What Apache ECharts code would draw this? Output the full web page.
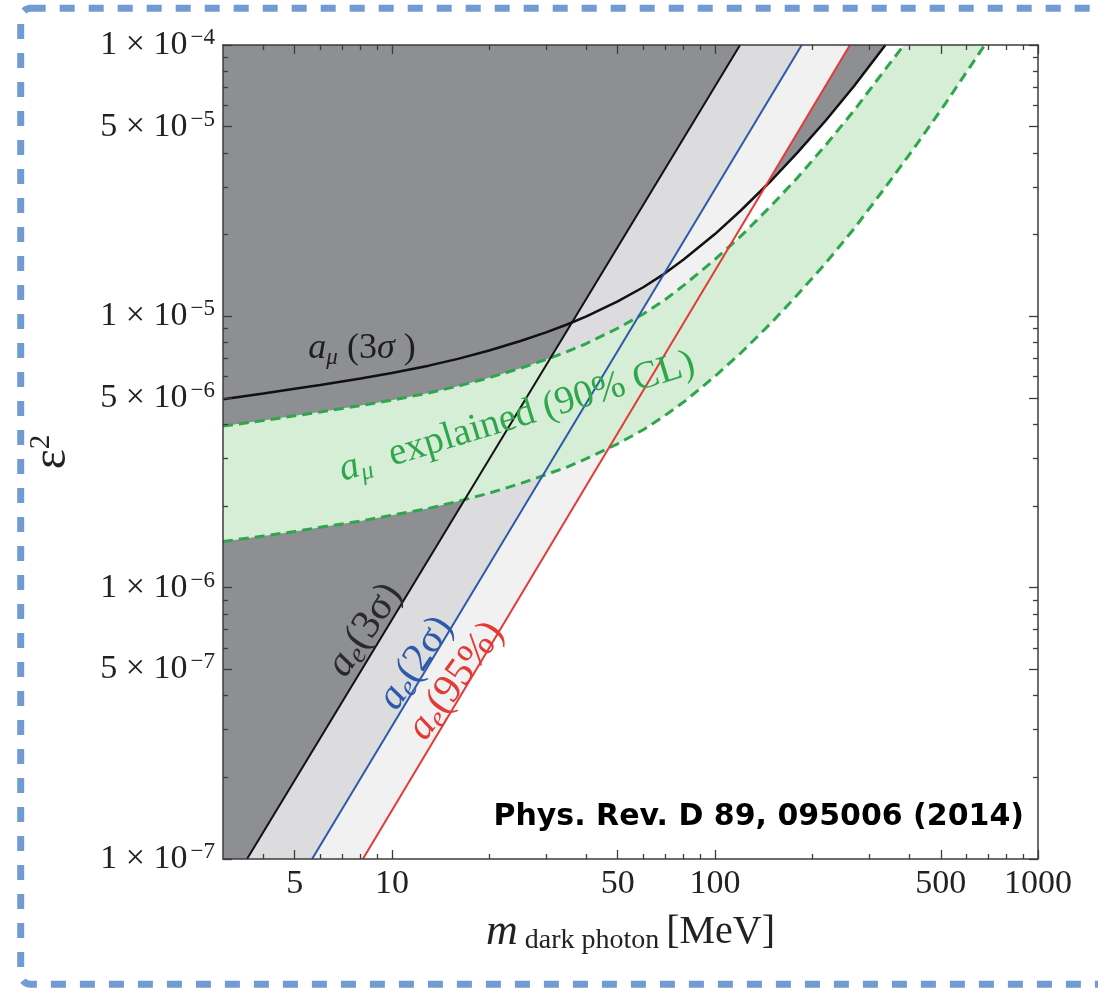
<!DOCTYPE html>
<html>
<head>
<meta charset="utf-8">
<script src="https://cdn.jsdelivr.net/npm/echarts@6/dist/echarts.min.js"></script>
<style>
  html, body { margin: 0; padding: 0; background: #fff; }
  #chart { width: 1098px; height: 988px; }
</style>
</head>
<body>
<div id="chart"></div>
<script>
// Axis ranges (MeV on x, epsilon^2 on y)
const X_MIN = 3, X_MAX = 1000;
const Y_MIN = 1e-7, Y_MAX = 1e-4;

// Tick positions
const xMajorTicks = [5, 10, 50, 100, 500, 1000];
const xMinorTicks = [4, 6, 7, 8, 9, 20, 30, 40, 60, 70, 80, 90, 200, 300, 400, 600, 700, 800, 900];
const yMajorTicks = [1e-7, 5e-7, 1e-6, 5e-6, 1e-5, 5e-5, 1e-4];
const yMinorTicks = [2e-7, 3e-7, 4e-7, 6e-7, 7e-7, 8e-7, 9e-7,
                     2e-6, 3e-6, 4e-6, 6e-6, 7e-6, 8e-6, 9e-6,
                     2e-5, 3e-5, 4e-5, 6e-5, 7e-5, 8e-5, 9e-5];

// Electron g-2 bounds (straight in log-log)
const aeMass3s = [3.56, 119.6];
const aeEps3s  = [1e-7, 1e-4];
const aeMass2s = [5.66, 185.6];
const aeEps2s  = [1e-7, 1e-4];
const aeMass95 = [8.13, 261.8];
const aeEps95  = [1e-7, 1e-4];

// Muon g-2 3 sigma exclusion curve
const amuMass = [3, 4, 5, 6, 8, 10, 13, 16, 20, 25, 30, 35, 40, 50, 60, 70, 80, 100, 120, 150, 180, 220, 270, 337];
const amuEps  = [4.95e-6, 5.20e-6, 5.41e-6, 5.58e-6, 5.90e-6, 6.18e-6, 6.58e-6, 6.97e-6, 7.48e-6, 8.11e-6,
                 8.73e-6, 9.35e-6, 1.0e-5, 1.135e-5, 1.28e-5, 1.44e-5, 1.62e-5, 2.01e-5, 2.45e-5, 3.18e-5,
                 4.01e-5, 5.26e-5, 7.08e-5, 1.0e-4];

// Muon g-2 explained band (90% CL): upper and lower edges
const greenUpMass = [3, 4, 5, 6, 8, 10, 13, 16, 20, 25, 30, 35, 40, 50, 60, 70, 80, 100, 120, 150, 180, 220, 270, 337, 385];
const greenUpEps  = [3.94e-6, 4.13e-6, 4.30e-6, 4.44e-6, 4.69e-6, 4.91e-6, 5.22e-6, 5.53e-6, 5.94e-6, 6.44e-6,
                     6.93e-6, 7.43e-6, 7.94e-6, 9.04e-6, 1.02e-5, 1.15e-5, 1.30e-5, 1.62e-5, 1.97e-5, 2.57e-5,
                     3.24e-5, 4.27e-5, 5.75e-5, 8.15e-5, 1.0e-4];
const greenLoMass = [3, 4, 5, 6, 8, 10, 13, 16, 20, 25, 30, 35, 40, 50, 60, 70, 80, 100, 120, 150, 180, 220, 270, 337, 420, 520, 684];
const greenLoEps  = [1.48e-6, 1.55e-6, 1.61e-6, 1.67e-6, 1.76e-6, 1.85e-6, 1.96e-6, 2.08e-6, 2.23e-6, 2.42e-6,
                     2.61e-6, 2.79e-6, 2.99e-6, 3.39e-6, 3.82e-6, 4.31e-6, 4.83e-6, 6.01e-6, 7.31e-6, 9.51e-6,
                     1.20e-5, 1.57e-5, 2.11e-5, 2.99e-5, 4.28e-5, 6.15e-5, 1.0e-4];

const SERIF = '"Liberation Serif", "DejaVu Serif", serif';
const C_DARK = '#8e8f93', C_MID = '#dcdcdf', C_LIGHT = '#f1f1f2';
const C_GREEN_FILL = '#d6edd6', C_GREEN = '#2ea64c';
const C_BLUE = '#2c5aa8', C_RED = '#e23a35', C_AXIS = '#3c3c3c';

const zip = (xs, ys) => xs.map((x, i) => [x, ys[i]]);
// region to the upper-left of a line that starts on the bottom edge
const leftOf = (xs, ys) => [[X_MIN, Y_MIN]].concat(zip(xs, ys));

function logAxis(kind, position, ticks, tickLen, withLine, withLabels, extra) {
  const isX = kind === 'x';
  return Object.assign({
    type: 'log', logBase: 10,
    min: isX ? X_MIN : Y_MIN, max: isX ? X_MAX : Y_MAX,
    position: position, z: 50,
    axisLine: { show: withLine, onZero: false, lineStyle: { color: C_AXIS, width: 1.5 } },
    axisTick: { show: true, inside: true, length: tickLen, customValues: ticks,
                lineStyle: { color: C_AXIS, width: 1.3 } },
    axisLabel: { show: withLabels, customValues: ticks },
    splitLine: { show: false },
    minorTick: { show: false },
    axisPointer: { show: false }
  }, extra || {});
}

const xLabel = {
  show: true, customValues: xMajorTicks, margin: 8,
  fontFamily: SERIF, fontSize: 34, color: '#222',
  formatter: v => String(Math.round(v))
};

const yLabel = {
  show: true, customValues: yMajorTicks, margin: 8,
  formatter: v => {
    const e = Math.floor(Math.log10(v) + 1e-9);
    const m = Math.round(v / Math.pow(10, e));
    return '{m|' + m + ' × 10}{e|−' + (-e) + '}';
  },
  rich: {
    m: { fontFamily: SERIF, fontSize: 34, lineHeight: 37, color: '#222', verticalAlign: 'middle' },
    e: { fontFamily: SERIF, fontSize: 23, lineHeight: 22, color: '#222', verticalAlign: 'top',
         padding: [0, 0, 0, 3] }
  }
};

const xAxes = [
  logAxis('x', 'bottom', xMajorTicks, 9, true, true, {
    axisLabel: xLabel,
    name: '{m|m}{s| dark photon }{u|[MeV]}',
    nameLocation: 'middle', nameGap: 50,
    nameTextStyle: {
      rich: {
        m: { fontFamily: SERIF, fontStyle: 'italic', fontSize: 44, lineHeight: 46, color: '#222' },
        s: { fontFamily: SERIF, fontSize: 28, lineHeight: 22, color: '#222', verticalAlign: 'bottom' },
        u: { fontFamily: SERIF, fontSize: 40, lineHeight: 46, color: '#222' }
      }
    }
  }),
  logAxis('x', 'bottom', xMinorTicks, 5, false, false),
  logAxis('x', 'top', xMajorTicks, 9, true, false),
  logAxis('x', 'top', xMinorTicks, 5, false, false)
];

const yAxes = [
  logAxis('y', 'left', yMajorTicks, 9, true, true, {
    axisLabel: yLabel,
    name: '{a|ε}{b|2}',
    nameLocation: 'middle', nameRotate: 90, nameGap: 146,
    nameTextStyle: {
      rich: {
        a: { fontFamily: SERIF, fontSize: 48, lineHeight: 50, color: '#222' },
        b: { fontFamily: SERIF, fontSize: 29, lineHeight: 24, color: '#222', verticalAlign: 'top' }
      }
    }
  }),
  logAxis('y', 'left', yMinorTicks, 5, false, false),
  logAxis('y', 'right', yMajorTicks, 9, true, false),
  logAxis('y', 'right', yMinorTicks, 5, false, false)
];

function fill(data, color, z) {
  return {
    type: 'line', data: data, symbol: 'none', z: z,
    lineStyle: { width: 0, opacity: 0 },
    areaStyle: { color: color, opacity: 1, origin: 'end' },
    silent: true
  };
}
function curve(data, color, width, z, dash) {
  return {
    type: 'line', data: data, symbol: 'none', z: z,
    lineStyle: { color: color, width: width, type: dash || 'solid' },
    silent: true
  };
}

const series = [
  // excluded by muon g-2 (above the curve)
  fill(zip(amuMass, amuEps), C_DARK, 1),
  // electron g-2 bands
  fill(leftOf(aeMass95, aeEps95), C_LIGHT, 2),
  fill(leftOf(aeMass2s, aeEps2s), C_MID, 3),
  fill(leftOf(aeMass3s, aeEps3s), C_DARK, 4),
  // band where the muon g-2 discrepancy is explained
  {
    type: 'custom', z: 5, silent: true, clip: true,
    data: [[X_MIN, Y_MIN]],
    renderItem: (params, api) => {
      const ring = zip(greenUpMass, greenUpEps).concat(zip(greenLoMass, greenLoEps).reverse());
      return {
        type: 'polygon',
        shape: { points: ring.map(p => api.coord(p)) },
        style: { fill: C_GREEN_FILL }
      };
    }
  },
  curve(zip(greenUpMass, greenUpEps), C_GREEN, 3, 10, [10, 6]),
  curve(zip(greenLoMass, greenLoEps), C_GREEN, 3, 10, [10, 6]),
  // boundary lines
  curve(zip(amuMass, amuEps), '#111', 2.5, 11),
  curve(zip(aeMass3s, aeEps3s), '#111', 2, 11),
  curve(zip(aeMass2s, aeEps2s), C_BLUE, 2, 11),
  curve(zip(aeMass95, aeEps95), C_RED, 2, 11)
];
// each series sits on the main bottom / left axes
series.forEach(s => { s.xAxisIndex = 0; s.yAxisIndex = 0; });

function label(x, y, rot, text, color, size, subSize) {
  const sub = subSize || Math.round(size * 0.66);
  return {
    type: 'text', x: x, y: y, rotation: rot * Math.PI / 180, z: 60, silent: true,
    style: {
      text: text, fill: color,
      align: 'center', textAlign: 'center', verticalAlign: 'middle', textVerticalAlign: 'middle',
      rich: {
        a: { fontFamily: SERIF, fontStyle: 'italic', fontSize: size, lineHeight: size + 4, fill: color },
        s: { fontFamily: SERIF, fontStyle: 'italic', fontSize: sub, lineHeight: sub, fill: color, verticalAlign: 'bottom' },
        t: { fontFamily: SERIF, fontSize: size, lineHeight: size + 4, fill: color },
        g: { fontFamily: SERIF, fontStyle: 'italic', fontSize: size, lineHeight: size + 4, fill: color }
      }
    }
  };
}

const graphic = [
  { type: 'rect', z: 100, silent: true,
    shape: { x: 20.7, y: 8.3, width: 1110, height: 976, r: 10 },
    style: { fill: 'none', stroke: '#729bd3', lineWidth: 7, lineDash: [15, 14] } },
  label(362, 349, 0, '{a|a}{s|μ}{t| (3}{g|σ}{t| )}', '#1e1e1e', 36, 23),
  label(517, 417, 17, '{a|a}{s|μ}{t|  explained (90% CL)}', C_GREEN, 39, 25),
  label(365, 630, 56, '{a|a}{s|e}{t|(3σ)}', '#2a2a2a', 41, 28),
  label(416, 663, 56, '{a|a}{s|e}{t|(2σ)}', C_BLUE, 41, 28),
  label(456, 681, 54, '{a|a}{s|e}{t|(95%)}', C_RED, 41, 28),
  { type: 'text', x: 1024, y: 817, z: 60, silent: true,
    style: { text: 'Phys. Rev. D 89, 095006 (2014)', fill: '#000',
             font: 'bold 30px "DejaVu Sans", sans-serif',
             align: 'right', textAlign: 'right', verticalAlign: 'middle', textVerticalAlign: 'middle' } }
];

const chart = echarts.init(document.getElementById('chart'), null, { renderer: 'canvas' });
chart.setOption({
  animation: false,
  backgroundColor: '#fff',
  grid: { left: 223, top: 45, right: 60, bottom: 129, containLabel: false },
  xAxis: xAxes,
  yAxis: yAxes,
  series: series,
  graphic: graphic
});
</script>
</body>
</html>
